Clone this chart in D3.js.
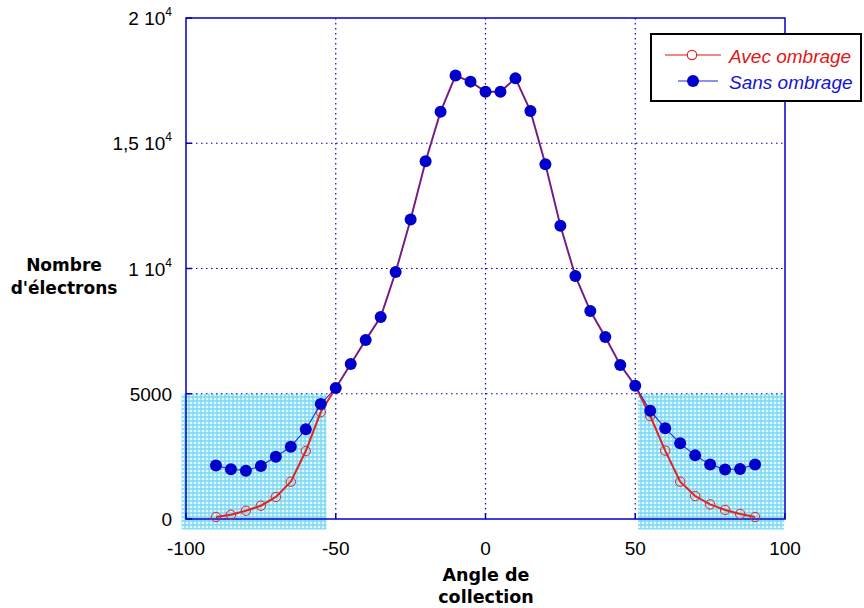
<!DOCTYPE html>
<html>
<head>
<meta charset="utf-8">
<script src="https://cdnjs.cloudflare.com/ajax/libs/d3/7.8.5/d3.min.js"></script>
<style>
  body { margin: 0; background: #fff; }
  text { font-family: "Liberation Sans", Arial, sans-serif; }
</style>
</head>
<body>
<svg width="864" height="608"></svg>
<script>
// data
const angles = [-90, -85, -80, -75, -70, -65, -60, -55, -50, -45, -40, -35, -30, -25, -20, -15, -10, -5, 0,
                5, 10, 15, 20, 25, 30, 35, 40, 45, 50, 55, 60, 65, 70, 75, 80, 85, 90];
const avecOmbrage = [80, 170, 330, 530, 880, 1490, 2715, 4270, 5230, 6190, 7150, 8060, 9860, 11960, 14280, 16260, 17700, 17460, 17060,
                     17060, 17590, 16290, 14160, 11710, 9700, 8300, 7265, 6150, 5320, 4110, 2730, 1490, 918, 585, 360, 200, 80];
const sansOmbrage = [2140, 1984, 1930, 2116, 2487, 2886, 3580, 4590, 5230, 6190, 7150, 8060, 9860, 11960, 14280, 16260, 17700, 17460, 17060,
                     17060, 17590, 16290, 14160, 11710, 9700, 8300, 7265, 6150, 5320, 4323, 3620, 3020, 2540, 2180, 1980, 1996, 2180];
const xTicks = [-100, -50, 0, 50, 100];
const yTicks = [0, 5000, 10000, 15000, 20000];
const yTickLabels = [["0", ""], ["5000", ""], ["1 10", "4"], ["1,5 10", "4"], ["2 10", "4"]];
// shaded zones: [x0, x1, y0, y1]
const shadeZones = [[-101.5, -53.1, -420, 5000], [50.9, 99.7, -420, 5000]];

const svg = d3.select("svg");
const x = d3.scaleLinear().domain([-100, 100]).range([186, 785]);
const y = d3.scaleLinear().domain([0, 20000]).range([519, 18]);

const blue = "#0000cc";
const red = "#e42222";

// grid pattern for the shaded zones
const defs = svg.append("defs");
const pat = defs.append("pattern").attr("id", "hatch")
  .attr("patternUnits", "userSpaceOnUse").attr("width", 4).attr("height", 4);
pat.append("rect").attr("width", 4).attr("height", 4).attr("fill", "#e4f8fe");
pat.append("path").attr("d", "M0,1H4M1,0V4").attr("stroke", "#78d8f4").attr("stroke-width", 1.4);

svg.selectAll("rect.shade").data(shadeZones).enter().append("rect")
  .attr("class", "shade")
  .attr("x", d => x(d[0])).attr("width", d => x(d[1]) - x(d[0]))
  .attr("y", d => y(d[3])).attr("height", d => y(d[2]) - y(d[3]))
  .attr("fill", "url(#hatch)");

// grid
const g = svg.append("g");
g.selectAll("line.vg").data(xTicks.slice(1, -1)).enter().append("line")
  .attr("x1", d => x(d)).attr("x2", d => x(d)).attr("y1", y(20000)).attr("y2", y(0))
  .attr("stroke", blue).attr("stroke-width", 1.2).attr("stroke-dasharray", "1.5,3.5");
g.selectAll("line.hg").data(yTicks.slice(1, -1)).enter().append("line")
  .attr("y1", d => y(d)).attr("y2", d => y(d)).attr("x1", x(-100)).attr("x2", x(100))
  .attr("stroke", blue).attr("stroke-width", 1.2).attr("stroke-dasharray", "1.5,3.5");

// frame
svg.append("rect").attr("x", x(-100)).attr("y", y(20000))
  .attr("width", x(100) - x(-100)).attr("height", y(0) - y(20000))
  .attr("fill", "none").attr("stroke", blue).attr("stroke-width", 1.5);

// ticks
svg.selectAll("line.yt").data(yTicks).enter().append("line")
  .attr("x1", x(-100)).attr("x2", x(-100) + 6).attr("y1", d => y(d)).attr("y2", d => y(d))
  .attr("stroke", blue).attr("stroke-width", 1.5);
svg.selectAll("line.xt").data(xTicks).enter().append("line")
  .attr("x1", d => x(d)).attr("x2", d => x(d)).attr("y1", y(0)).attr("y2", y(0) - 6)
  .attr("stroke", blue).attr("stroke-width", 1.5);

// tick labels
svg.selectAll("text.xl").data(xTicks).enter().append("text")
  .attr("x", d => x(d)).attr("y", 555).attr("text-anchor", "middle")
  .attr("font-size", 19).attr("fill", "#000").text(d => d);

yTicks.forEach((v, i) => {
  const t = svg.append("text").attr("x", 172).attr("y", y(v) + 7)
    .attr("text-anchor", "end").attr("font-size", 19).attr("fill", "#000");
  t.append("tspan").text(yTickLabels[i][0]);
  if (yTickLabels[i][1]) {
    t.append("tspan").attr("dy", -9).attr("font-size", 12).text(yTickLabels[i][1]);
  }
});

// axis titles
const titleFont = "'DejaVu Sans', Verdana, sans-serif";
[["Nombre", 271], ["d'électrons", 294]].forEach(([s, yy]) => {
  svg.append("text").attr("x", 64).attr("y", yy).attr("text-anchor", "middle")
    .style("font-family", titleFont).attr("font-weight", "bold").attr("font-size", 17).text(s);
});
[["Angle de", 581], ["collection", 603]].forEach(([s, yy]) => {
  svg.append("text").attr("x", 486).attr("y", yy).attr("text-anchor", "middle")
    .style("font-family", titleFont).attr("font-weight", "bold").attr("font-size", 17.5).text(s);
});

// series
const line = d3.line().x(d => x(d[0])).y(d => y(d[1]));
const avecPts = angles.map((a, i) => [a, avecOmbrage[i]]);
const sansPts = angles.map((a, i) => [a, sansOmbrage[i]]);

svg.append("path").datum(avecPts).attr("d", line)
  .attr("fill", "none").attr("stroke", red).attr("stroke-width", 2);
svg.selectAll("circle.avec").data(avecPts).enter().append("circle")
  .attr("cx", d => x(d[0])).attr("cy", d => y(d[1])).attr("r", 4.7)
  .attr("fill", "none").attr("stroke", red).attr("stroke-width", 1);

svg.append("path").datum(sansPts).attr("d", line)
  .attr("fill", "none").attr("stroke", "#2a2ad4").attr("stroke-width", 1.1);
svg.selectAll("circle.sans").data(sansPts).enter().append("circle")
  .attr("cx", d => x(d[0])).attr("cy", d => y(d[1])).attr("r", 6)
  .attr("fill", blue);

// legend
const lg = svg.append("g");
lg.append("rect").attr("x", 651).attr("y", 34).attr("width", 210).attr("height", 67)
  .attr("fill", "#fff").attr("stroke", "#000").attr("stroke-width", 2);
lg.append("line").attr("x1", 665).attr("x2", 721).attr("y1", 55).attr("y2", 55)
  .attr("stroke", "#ef6060").attr("stroke-width", 1.5);
lg.append("circle").attr("cx", 692).attr("cy", 55).attr("r", 4.7)
  .attr("fill", "#fff").attr("stroke", red).attr("stroke-width", 1.2);
lg.append("line").attr("x1", 678).attr("x2", 718).attr("y1", 81).attr("y2", 81)
  .attr("stroke", "#6a6ae8").attr("stroke-width", 1.5);
lg.append("circle").attr("cx", 693).attr("cy", 81).attr("r", 6).attr("fill", blue);
lg.append("text").attr("x", 729).attr("y", 63).attr("font-size", 19).attr("font-style", "italic")
  .attr("fill", "#e01818").text("Avec ombrage");
lg.append("text").attr("x", 729).attr("y", 89).attr("font-size", 19).attr("font-style", "italic")
  .attr("fill", "#1414d0").text("Sans ombrage");
</script>
</body>
</html>
